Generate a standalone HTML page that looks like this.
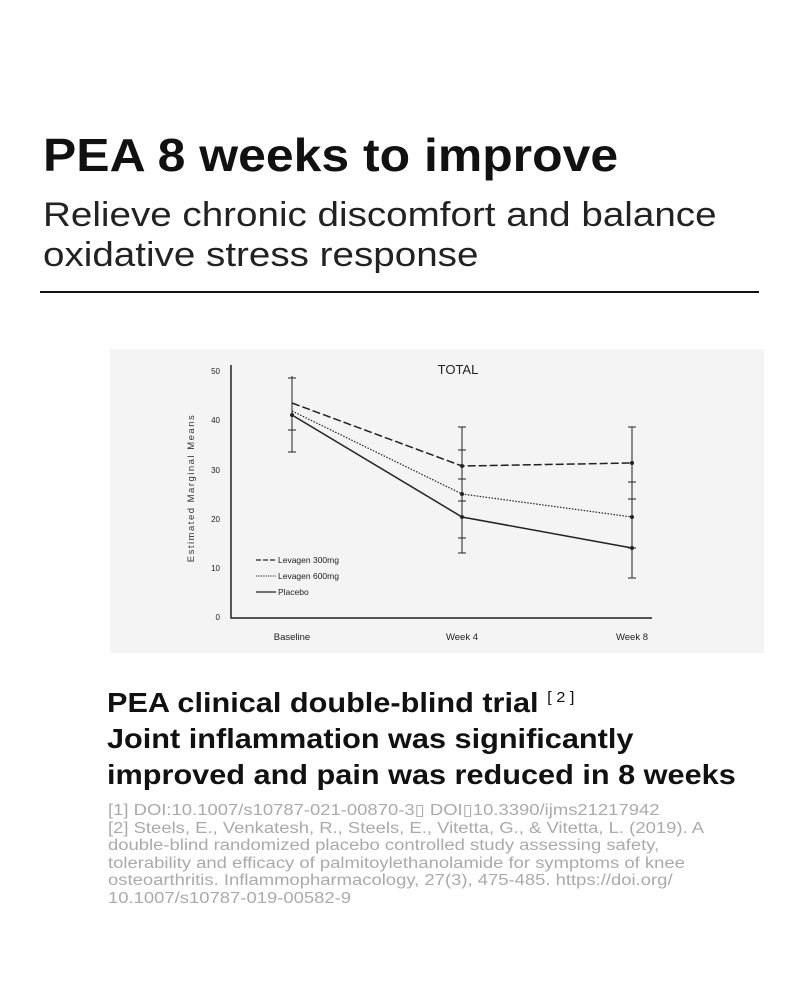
<!DOCTYPE html>
<html><head><meta charset="utf-8"><style>
body{margin:0;background:#fff;width:800px;height:1000px;position:relative;font-family:"Liberation Sans","Noto Sans CJK SC",sans-serif;overflow:hidden}
.t{position:absolute;white-space:nowrap;color:#111;transform-origin:0 0}
</style></head><body>
<div class="t" style="left:43px;top:128px;font-size:46px;font-weight:bold;transform:scaleX(1.085)">PEA 8 weeks to improve</div>
<div class="t" style="left:43px;top:195px;font-size:34px;line-height:40px;color:#222;transform:scaleX(1.135)">Relieve chronic discomfort and balance<br>oxidative stress response</div>
<div style="position:absolute;left:40px;top:291px;width:719px;height:2px;background:#111"></div>
<svg style="position:absolute;left:0;top:0" width="800" height="1000" font-family="Liberation Sans, sans-serif">
<rect x="110" y="349" width="654" height="304" fill="#f4f4f4"/>
<g stroke="#222" fill="none">
<path d="M231 365V618H652" stroke-width="1.5"/>
<path d="M292 376V452M288 378h8M288 430h8M288 452h8M462 427V553M458 427h8M458 450h8M458 479h8M458 501h8M458 538h8M458 553h8M632 427V578M628 427h8M628 482h8M628 499h8M628 548h8M628 578h8" stroke-width="1"/>
<polyline points="292,403 462,466 632,463" stroke-width="1.5" stroke-dasharray="8,3"/>
<polyline points="292,411 462,494 632,517" stroke-width="1.2" stroke-dasharray="1.5,1.5"/>
<polyline points="292,415 462,517 632,548" stroke-width="1.5"/>
<path d="M256 560h20" stroke-dasharray="5,2" stroke-width="1.3"/>
<path d="M256 576h20" stroke-dasharray="1.2,1.2"/>
<path d="M256 592h20" stroke-width="1.3"/>
</g>
<g fill="#222"><circle cx="292" cy="415" r="2"/><circle cx="462" cy="466" r="2"/><circle cx="462" cy="494" r="2"/><circle cx="462" cy="517" r="2"/><circle cx="632" cy="463" r="2"/><circle cx="632" cy="517" r="2"/><circle cx="632" cy="548" r="2"/></g>
<g font-size="8" fill="#222" text-anchor="end"><text x="220" y="374">50</text><text x="220" y="423">40</text><text x="220" y="473">30</text><text x="220" y="522">20</text><text x="220" y="571">10</text><text x="220" y="620">0</text></g>
<text x="458" y="374" font-size="13" text-anchor="middle" fill="#222">TOTAL</text>
<text transform="translate(194,488) rotate(-90)" font-size="9.5" letter-spacing="1.5" text-anchor="middle" fill="#333">Estimated Marginal Means</text>
<g font-size="8.5" fill="#222"><text x="278" y="563">Levagen 300mg</text><text x="278" y="579">Levagen 600mg</text><text x="278" y="595">Placebo</text></g>
<g font-size="9.5" fill="#222" text-anchor="middle"><text x="292" y="640">Baseline</text><text x="462" y="640">Week 4</text><text x="632" y="640">Week 8</text></g>
</svg>
<div class="t" style="left:107px;top:680px;font-size:28px;line-height:36px;font-weight:bold;transform:scaleX(1.095)">PEA clinical double-blind trial <sup style="font-size:15px;font-weight:normal;vertical-align:10px">[ 2 ]</sup><br>Joint inflammation was significantly<br>improved and pain was reduced in 8 weeks</div>
<div class="t" style="left:108px;top:802px;font-size:15.5px;line-height:17.5px;color:#aaa;transform:scaleX(1.19)">[1] DOI:10.1007/s10787-021-00870-3&#x25af; DOI&#x25af;10.3390/ijms21217942<br>[2] Steels, E., Venkatesh, R., Steels, E., Vitetta, G., &amp; Vitetta, L. (2019). A<br>double-blind randomized placebo controlled study assessing safety,<br>tolerability and efficacy of palmitoylethanolamide for symptoms of knee<br>osteoarthritis. Inflammopharmacology, 27(3), 475-485. https://doi.org/<br>10.1007/s10787-019-00582-9</div>
</body></html>
